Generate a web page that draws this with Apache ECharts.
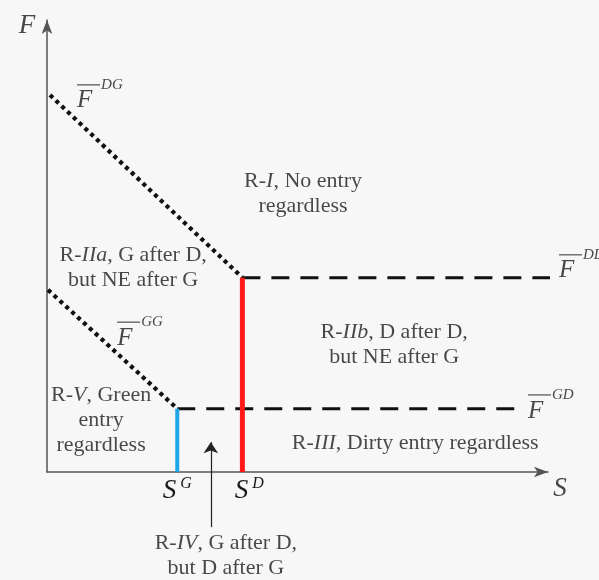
<!DOCTYPE html>
<html>
<head>
<meta charset="utf-8">
<script src="https://cdn.jsdelivr.net/npm/echarts@6/dist/echarts.min.js"></script>
<style>
html,body{margin:0;padding:0;background:#f7f7f7;}
#chart{width:599px;height:580px;}
</style>
</head>
<body>
<div id="chart"></div>
<script>
// ---- data (diagram units: S on x 0..100, F on y 0..100) ----
const xTickValues = [26, 39];           // S^G, S^D
const xTickSups = ['G', 'D'];
const curveDG = [[0.6, 83.4], [39, 43]];   // F-bar^DG (dotted)
const curveGG = [[0.2, 40.3], [26, 14]];   // F-bar^GG (dotted)
const levelDD = [[39, 43], [100.4, 43]];   // F-bar^DD (dashed)
const levelGD = [[26, 14], [94.4, 14]];    // F-bar^GD (dashed)
const barSG = [[26, 0], [26, 14]];         // blue segment
const barSD = [[39, 0], [39, 43]];         // red segment
const curveNames = ['DG', 'GG', 'DD', 'GD'];
const curveNameAnchors = [[6.0, 87.2], [14.0, 34.7], [102.2, 49.6], [96.0, 18.6]];
const regionTexts = [
  'R-{i|I}, No entry\nregardless',
  'R-{i|IIa}, G after D,\nbut NE after G',
  'R-{i|IIb}, D after D,\nbut NE after G',
  'R-{i|V}, Green\nentry\nregardless',
  'R-{i|III}, Dirty entry regardless',
  'R-{i|IV}, G after D,\nbut D after G'
];
const regionAnchors = [[51.1, 61.5], [17.2, 45.2], [69.3, 28.2], [10.8, 11.5], [73.5, 6.4], [35.7, -18.6]];
const pointerArrow = [[32.7, -12.2], [32.7, 6.6]];
const axisTitles = ['F', 'S'];
const axisTitleAnchors = [[-4.0, 98.7], [102.4, -3.8]];

const serif = "'Liberation Serif', 'DejaVu Serif', serif";
const txt = '#1a1a1a';

function plainLine(data, color, width, dash) {
  return {
    type: 'line', data: data, symbol: 'none', silent: true, clip: false,
    lineStyle: { color: color, width: width, type: dash || 'solid', cap: 'butt' },
    z: 3
  };
}

const barLabelRich = {
  bar: { width: 23, height: 1.3, backgroundColor: '#333', lineHeight: 14, verticalAlign: 'middle' },
  f: { fontFamily: serif, fontStyle: 'italic', fontSize: 25, color: txt, lineHeight: 18 },
  sup: { fontFamily: serif, fontStyle: 'italic', fontSize: 15, color: txt, lineHeight: 14, verticalAlign: 'middle', padding: [0, 0, 0, 1] }
};

const option = {
  backgroundColor: '#f7f7f7',
  animation: false,
  grid: { left: 47, right: 51, top: 20, bottom: 108 },
  xAxis: {
    type: 'value', min: 0, max: 100,
    splitLine: { show: false },
    axisTick: { show: false },
    axisLine: { lineStyle: { color: '#555', width: 1.5 }, symbol: ['none', 'arrow'], symbolSize: [8, 14] },
    axisLabel: {
      customValues: xTickValues,
      margin: 4,
      formatter: function (v) {
        const i = xTickValues.indexOf(v);
        return (i === 1 ? '{sp|}' : '') + '{s|S}{sup|' + xTickSups[i] + '}';
      },
      rich: {
        sp: { width: 14 },
        s: { fontFamily: serif, fontStyle: 'italic', fontSize: 27, color: txt, lineHeight: 30 },
        sup: { fontFamily: serif, fontStyle: 'italic', fontSize: 16, color: txt, lineHeight: 20, verticalAlign: 'top', padding: [0, 0, 0, 4] }
      }
    }
  },
  yAxis: {
    type: 'value', min: 0, max: 100,
    splitLine: { show: false },
    axisTick: { show: false },
    axisLabel: { show: false },
    axisLine: { lineStyle: { color: '#555', width: 1.5 }, symbol: ['none', 'arrow'], symbolSize: [8, 14] }
  },
  series: [
    plainLine(curveDG, '#111', 4.2, [4, 4]),
    plainLine(curveGG, '#111', 4.2, [4, 4]),
    plainLine(levelDD, '#111', 3, [18, 11]),
    plainLine(levelGD, '#111', 3, [18, 11]),
    plainLine(barSG, '#1ea6e6', 4),
    plainLine(barSD, '#ff1a1a', 5),
    {
      type: 'lines', coordinateSystem: 'cartesian2d', clip: false, silent: true,
      symbol: ['none', 'arrow'], symbolSize: 11,
      lineStyle: { color: '#222', width: 1.2, opacity: 1 },
      data: [{ coords: pointerArrow }]
    },
    {
      type: 'scatter', symbolSize: 0, clip: false, silent: true,
      data: curveNameAnchors.map(function (p, i) {
        return { value: p, label: { formatter: '{bar|}{sup|' + curveNames[i] + '}\n{f|F}' } };
      }),
      label: { show: true, position: [0, 0], align: 'left', verticalAlign: 'top', rich: barLabelRich }
    },
    {
      type: 'scatter', symbolSize: 0, clip: false, silent: true,
      data: regionAnchors.map(function (p, i) {
        return { value: p, label: { formatter: regionTexts[i] } };
      }),
      label: {
        show: true, position: 'inside', align: 'center', verticalAlign: 'middle',
        fontFamily: serif, fontSize: 22, lineHeight: 25, color: txt,
        rich: { i: { fontFamily: serif, fontStyle: 'italic', fontSize: 22, lineHeight: 25, color: txt } }
      }
    },
    {
      type: 'scatter', symbolSize: 0, clip: false, silent: true,
      data: axisTitleAnchors.map(function (p, i) {
        return { value: p, label: { formatter: axisTitles[i] } };
      }),
      label: {
        show: true, position: 'inside', align: 'center', verticalAlign: 'middle',
        fontFamily: serif, fontStyle: 'italic', fontSize: 27, color: txt
      }
    }
  ]
};

const chart = echarts.init(document.getElementById('chart'), null, { renderer: 'canvas' });
chart.setOption(option);
</script>
</body>
</html>
